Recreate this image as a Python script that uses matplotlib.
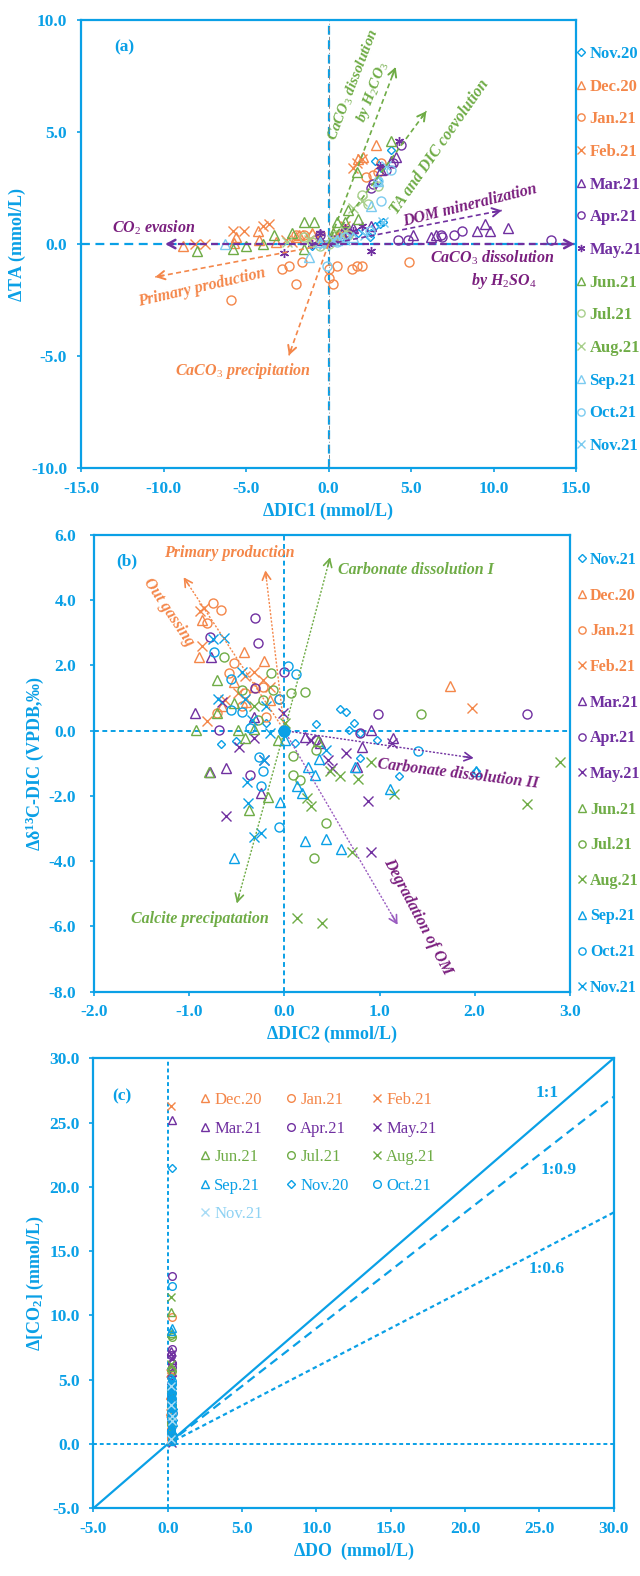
import numpy as np
import matplotlib
matplotlib.use("Agg")
import matplotlib.pyplot as plt

plt.rcParams['font.family'] = ['Liberation Serif', 'DejaVu Serif']
plt.rcParams['mathtext.fontset'] = 'custom'
plt.rcParams['mathtext.rm'] = 'Liberation Serif'
plt.rcParams['mathtext.it'] = 'Liberation Serif:italic:bold'
plt.rcParams['mathtext.bf'] = 'Liberation Serif:bold'

BLUE = '#0aa0e6'
LBLUE = '#7ccbf0'
ORANGE = '#f4874a'
PURPLE = '#7030a0'
MAGENTA = '#7a1f7e'
GREEN = '#6fac46'
LGREEN = '#a8cf8c'

# ---------------- panel (a): dTA vs dDIC1 ----------------
a_names = ['Nov.20', 'Dec.20', 'Jan.21', 'Feb.21', 'Mar.21', 'Apr.21', 'May.21',
           'Jun.21', 'Jul.21', 'Aug.21', 'Sep.21', 'Oct.21', 'Nov.21']
a_x = [
    [3.8, 2.8, 3.2, 3.0, 2.6, 2.8, 3.1, 2.5, 1.8, 0.8, 0.5, 1.2, 2.2, 3.3, -1.0, 0.2, -0.3],
    [-8.8, -5.6, -4.3, -4.2, -3.2, -1.8, 2.9, 1.8, 2.1, -2.0, -1.0, 0.5, 1.0, -5.7],
    [-5.9, -2.8, -2.4, -2.0, -1.6, 0.0, 0.0, 0.3, 0.5, 1.4, 1.7, 2.0, 4.9, 2.3, 2.7, 3.2, 3.0, -1.5, -0.8, -2.0],
    [-8.1, -7.5, -5.8, -5.1, -4.0, -3.6, -2.6, -2.2, 1.5, 2.0, 1.7, -1.3, 0.5, -0.5, 1.0],
    [5.1, 6.2, 6.5, 9.0, 9.5, 9.8, 10.9, 4.1, 3.8, 3.2, -0.5, 0.8, 1.5, 2.6],
    [4.2, 4.8, 6.8, 6.9, 7.6, 8.1, 13.5, 4.4, 3.9, 2.6, 2.7, 3.5, 0.3, -0.5, 1.2],
    [-2.7, 2.6, 4.3, 3.1, -0.5, 0.3, 1.0, 2.0, -1.0, 0.0, 1.5],
    [-8.0, -5.8, -5.0, -4.0, -3.3, -2.2, -1.5, -0.9, 0.5, 1.0, 1.8, 3.8, 1.7, 1.2, -1.5, 0.3],
    [-1.5, -1.0, 0.0, 0.5, 2.0, -0.5, 1.2, 3.0, 2.4],
    [-2.5, -1.2, 1.5, 2.0, 0.2, -0.3, 1.0],
    [-6.3, -1.2, 2.6, 0.5, -0.5, 1.5, 3.0],
    [3.2, -0.1, 0.5, 3.0, 3.8, 1.0, 2.5],
    [3.3, 2.2, 0.3, 1.0, 3.5, -0.3],
]
a_y = [
    [4.2, 3.7, 3.4, 2.8, 0.5, 0.8, 0.9, 0.3, 0.5, 0.3, 0.2, 0.4, 0.6, 1.0, -0.1, 0.1, 0.0],
    [-0.1, 0.3, 0.6, 0.2, 0.1, 0.4, 4.4, 3.8, 3.9, 0.3, 0.5, 0.3, 0.6, 0.05],
    [-2.5, -1.1, -1.0, -1.8, -0.8, -1.1, -1.5, -1.8, -1.0, -1.1, -1.0, -1.0, -0.8, 3.0, 3.1, 3.6, 3.2, 0.4, 0.2, 0.4],
    [0.0, 0.0, 0.6, 0.6, 0.8, 0.9, 0.2, 0.1, 3.4, 3.8, 3.6, 0.4, 0.5, 0.3, 0.8],
    [0.4, 0.3, 0.4, 0.6, 0.9, 0.6, 0.7, 3.9, 3.7, 3.3, 0.2, 0.5, 0.7, 0.8],
    [0.2, 0.2, 0.4, 0.3, 0.4, 0.6, 0.2, 4.4, 3.6, 2.5, 2.7, 3.3, 0.2, 0.4, 0.5],
    [-0.4, -0.3, 4.6, 3.5, 0.5, 0.1, 0.7, 0.8, 0.0, 0.0, 0.6],
    [-0.3, -0.2, -0.1, 0.0, 0.4, 0.5, 1.0, 1.0, 1.0, 1.0, 1.1, 4.6, 3.2, 1.5, -0.2, 0.5],
    [0.3, 0.1, 0.0, 0.4, 2.2, -0.1, 0.4, 2.6, 1.8],
    [0.1, 0.2, 1.6, 1.9, 0.2, 0.0, 0.6],
    [0.0, -0.6, 1.7, 0.2, 0.1, 0.3, 2.8],
    [1.9, -1.0, 0.1, 2.8, 3.3, 0.3, 0.6],
    [1.0, 0.4, 0.2, 0.2, 3.5, 0.0],
]

# ---------------- panel (b): d13C vs dDIC2 ----------------
b_names = ['Nov.21', 'Dec.20', 'Jan.21', 'Feb.21', 'Mar.21', 'Apr.21', 'May.21',
           'Jun.21', 'Jul.21', 'Aug.21', 'Sep.21', 'Oct.21', 'Nov.21']
b_x = [
    [-0.67, -0.51, 0.33, 0.58, 0.65, 0.73, 0.68, 0.80, 0.97, 0.80, 1.21, 2.01, 0.11, -0.19],
    [-0.90, -0.87, -0.43, -0.22, 1.74, -0.53, -0.32, -0.15, -0.66, -0.40],
    [-0.75, -0.67, -0.81, -0.58, -0.53, -0.41, -0.23, -0.06, -0.45, -0.19, -0.71],
    [-0.89, -0.85, -0.87, -0.81, 1.97, -0.32, -0.41, -0.49, -0.23, -0.15, -0.62],
    [-0.94, -0.77, -0.61, -0.78, -0.25, 0.22, 0.37, 0.82, 0.91, 1.14, 0.76, -0.32],
    [-0.78, -0.31, -0.28, -0.69, -0.36, -0.31, 0.00, 0.80, 0.98, 2.55, 0.33],
    [-0.61, -0.21, 0.46, 0.50, 0.65, 0.88, 0.91, -0.48, -0.32, -0.66, -0.02, 0.28, 1.13],
    [-0.93, -0.71, -0.71, -0.79, -0.37, -0.17, -0.49, -0.41, -0.32, -0.07, 0.35, -0.53],
    [-0.64, -0.45, -0.14, -0.12, 0.07, 0.22, 1.44, 0.09, 0.09, 0.16, 0.33, 0.44, 0.31, -0.28, -0.23],
    [0.13, 0.40, 0.71, 0.28, 0.24, 0.48, 0.58, 0.77, 0.91, 1.15, 2.55, 2.90, -0.32, 0.01],
    [-0.53, -0.05, 0.22, 0.44, 0.59, 0.13, 0.19, 0.25, 0.36, 0.32, 1.11, 2.01, 0.74, 0.01],
    [-0.74, -0.56, -0.45, 0.04, 0.12, -0.06, -0.27, -0.23, -0.25, -0.06, 1.40, -0.56, -0.36],
    [-0.75, -0.64, -0.70, -0.45, -0.41, -0.39, -0.38, -0.32, -0.25, -0.21, 0.44, -0.19, -0.34, -0.15],
]
b_y = [
    [-0.40, -0.33, 0.20, 0.66, 0.56, 0.23, 0.02, -0.08, -0.28, -0.84, -1.39, -1.25, -0.38, 0.23],
    [2.27, 3.40, 2.42, 2.12, 1.38, 1.50, 1.35, 0.94, 0.74, 0.89],
    [3.91, 3.70, 3.29, 1.76, 2.07, 1.15, 1.35, 0.96, 0.74, 0.43, 0.53],
    [3.68, 3.75, 2.58, 0.28, 0.69, 1.81, 1.66, 1.15, 1.56, 1.35, 0.94],
    [0.53, 2.27, -1.15, -1.27, -1.92, -0.18, -0.38, -0.49, 0.02, -0.23, -1.10, 0.43],
    [2.88, 3.45, 2.68, 0.02, -1.35, 1.30, 1.81, -0.06, 0.50, 0.50, -0.28],
    [-2.63, -0.89, -0.89, -1.15, -0.69, -2.15, -3.73, -0.49, -0.23, 0.89, 0.53, -0.28, -0.38],
    [0.02, 1.56, 0.53, -1.27, -2.43, -2.02, 0.02, -0.23, 0.04, -0.28, -0.33, 0.84],
    [2.27, 1.25, 1.76, 1.25, 1.15, 1.18, 0.50, -0.77, -1.35, -1.51, -0.59, -2.82, -3.89, 0.33, 0.94],
    [-5.73, -5.90, -3.72, -2.30, -2.07, -1.25, -1.39, -1.49, -0.95, -1.95, -2.25, -0.95, 0.74, 0.23],
    [-3.89, -2.20, -3.38, -3.33, -3.63, -1.71, -1.92, -1.10, -0.87, -1.35, -1.79, -1.25, -1.10, -0.28],
    [2.42, 1.58, 0.56, 1.97, 1.74, 0.96, -0.81, -1.25, -1.71, -2.96, -0.61, 0.64, 0.08],
    [2.80, 2.83, 0.96, 1.81, 0.96, -1.56, -2.22, -3.27, -3.14, -0.89, -0.59, 0.74, 0.33, -0.08],
]
b_origin_x = [0.0]
b_origin_y = [0.0]

# ---------------- panel (c): dCO2 vs dDO ----------------
c_names = ['Dec.20', 'Jan.21', 'Feb.21', 'Mar.21', 'Apr.21', 'May.21', 'Jun.21',
           'Jul.21', 'Aug.21', 'Sep.21', 'Nov.20', 'Oct.21', 'Nov.21']
c_x = [
    [0.2, 0.25, 0.15, 0.2, 0.3, 0.2, 0.25, 0.2, 0.15, 0.2],
    [0.3, 0.25, 0.2, 0.3, 0.2, 0.25, 0.2, 0.3],
    [0.2, 0.15, 0.2, 0.25, 0.2, 0.15],
    [0.3, 0.25, 0.3, 0.2, 0.25, 0.3, 0.3, 0.25],
    [0.3, 0.3, 0.25, 0.3, 0.2, 0.25, 0.3, 0.3],
    [0.25, 0.3, 0.2, 0.25, 0.3, 0.25],
    [0.25, 0.3, 0.2, 0.25, 0.3, 0.25],
    [0.3, 0.25, 0.3, 0.2, 0.25, 0.3],
    [0.2, 0.25, 0.3, 0.2, 0.25],
    [0.3, 0.25, 0.3, 0.25, 0.3, 0.2, 0.3, 0.25, 0.3, 0.2, 0.35, 0.25, 0.3, 0.25, 0.35, 0.3],
    [0.3, 0.25, 0.3, 0.2, 0.3, 0.25, 0.3, 0.25, 0.35, 0.2, 0.3, 0.25, 0.3, 0.35],
    [0.3, 0.3, 0.25, 0.3, 0.25, 0.3, 0.25, 0.3, 0.25, 0.3, 0.2, 0.35, 0.3, 0.3, 0.25, 0.35],
    [0.25, 0.2, 0.3, 0.25, 0.3],
]
c_y = [
    [5.8, 4.6, 3.8, 3.0, 2.2, 1.4, 0.8, 0.3, 2.6, 1.1],
    [9.9, 5.2, 4.0, 2.5, 1.2, 0.4, 3.1, 1.9],
    [26.3, 5.5, 3.3, 1.8, 0.6, 2.4],
    [25.2, 7.2, 6.5, 4.5, 2.0, 0.5, 5.6, 3.9],
    [13.1, 7.4, 6.9, 6.3, 3.5, 1.0, 6.0, 2.6],
    [7.0, 6.6, 5.0, 2.7, 0.1, 4.1],
    [10.3, 8.6, 6.0, 3.2, 0.7, 2.3],
    [8.3, 8.5, 5.7, 4.2, 1.6, 3.0],
    [11.4, 6.2, 3.7, 1.2, 2.8],
    [9.0, 8.8, 5.0, 4.3, 3.6, 2.9, 2.1, 1.3, 0.5, 3.3, 1.7, 0.2, 4.6, 2.5, 0.9, 3.9],
    [21.5, 5.1, 4.7, 3.9, 3.1, 2.4, 1.5, 0.7, 2.7, 1.1, 0.4, 4.2, 3.5, 1.9],
    [12.3, 4.9, 4.4, 4.0, 3.4, 2.8, 2.0, 1.4, 0.9, 0.3, 3.7, 2.4, 1.8, 4.7, 3.0, 0.6],
    [4.5, 3.0, 1.8, 0.4, 2.2],
]
c_ratios = [1.0, 0.9, 0.6]
c_ratio_labels = ['1:1', '1:0.9', '1:0.6']

# marker styles
ast = (6, 2, 0)
a_style = [('D', BLUE, BLUE), ('^', ORANGE, ORANGE), ('o', ORANGE, ORANGE), ('x', ORANGE, ORANGE),
           ('^', PURPLE, PURPLE), ('o', PURPLE, PURPLE), (ast, PURPLE, PURPLE),
           ('^', GREEN, GREEN), ('o', LGREEN, GREEN), ('x', LGREEN, GREEN),
           ('^', LBLUE, BLUE), ('o', LBLUE, BLUE), ('x', LBLUE, BLUE)]
b_style = [('D', BLUE, BLUE), ('^', ORANGE, ORANGE), ('o', ORANGE, ORANGE), ('x', ORANGE, ORANGE),
           ('^', PURPLE, PURPLE), ('o', PURPLE, PURPLE), ('x', PURPLE, PURPLE),
           ('^', GREEN, GREEN), ('o', GREEN, GREEN), ('x', GREEN, GREEN),
           ('^', BLUE, BLUE), ('o', BLUE, BLUE), ('x', BLUE, BLUE)]
c_style = [('^', ORANGE, ORANGE), ('o', ORANGE, ORANGE), ('x', ORANGE, ORANGE),
           ('^', PURPLE, PURPLE), ('o', PURPLE, PURPLE), ('x', PURPLE, PURPLE),
           ('^', GREEN, GREEN), ('o', GREEN, GREEN), ('x', GREEN, GREEN),
           ('^', BLUE, BLUE), ('D', BLUE, BLUE), ('o', BLUE, BLUE), ('x', '#a9dcf5', '#8fd2f3')]


def msize(m, base):
    if m == 'D':
        return base * 0.7
    return base


def style_axes(ax, xlim, ylim, xstep, ystep, xlabel, ylabel, ypad=7):
    ax.set_xlim(*xlim)
    ax.set_ylim(*ylim)
    ax.set_xticks(np.arange(xlim[0], xlim[1] + 0.01, xstep))
    ax.set_yticks(np.arange(ylim[0], ylim[1] + 0.01, ystep))
    ax.xaxis.set_major_formatter(matplotlib.ticker.FormatStrFormatter('%.1f'))
    ax.yaxis.set_major_formatter(matplotlib.ticker.FormatStrFormatter('%.1f'))
    for s in ax.spines.values():
        s.set_color(BLUE)
        s.set_linewidth(1.6)
    ax.tick_params(colors=BLUE, direction='out', length=3, width=1.2, labelsize=12.5)
    ax.tick_params(axis='x', pad=6)
    ax.tick_params(axis='y', pad=ypad)
    for t in ax.get_xticklabels() + ax.get_yticklabels():
        t.set_fontweight('bold')
    ax.set_xlabel(xlabel, color=BLUE, fontsize=13, fontweight='bold', labelpad=3)
    ax.set_ylabel(ylabel, color=BLUE, fontsize=13, fontweight='bold', labelpad=2)


def arrow(ax, start, end, color, ls, lw=1.2):
    ax.plot([start[0], end[0]], [start[1], end[1]], color=color, ls=ls, lw=lw, zorder=4)
    back = (end[0] - 0.05 * (end[0] - start[0]), end[1] - 0.05 * (end[1] - start[1]))
    ax.annotate('', xy=end, xytext=back,
                arrowprops=dict(arrowstyle='->,head_length=0.55,head_width=0.3',
                                color=color, lw=lw + 0.2, shrinkA=0, shrinkB=0), zorder=4)


def note(ax, x, y, s, color, rot=0, size=11.5):
    ax.text(x, y, s, color=color, fontsize=size, fontweight='bold', fontstyle='italic',
            rotation=rot, ha='center', va='center', rotation_mode='anchor', linespacing=1.3)


fig = plt.figure(figsize=(6.4, 15.76), dpi=100)

# ---------- (a) ----------
ax = fig.add_axes([0.1266, 0.7030, 0.7734, 0.2843])
ax.axhline(0, color=BLUE, ls=(0, (4, 2.5)), lw=1.6, zorder=1)
ax.axvline(0, color=BLUE, ls=(0, (4, 2.5)), lw=1.6, zorder=1)
ax.axvline(0, color='#8a8a8a', ls=(0, (4, 2.5, 1, 2.5)), lw=0.7, zorder=1)
for name, xs, ys, (m, c, _) in zip(a_names, a_x, a_y, a_style):
    ax.plot(xs, ys, ls='none', marker=m, mfc='none', mec=c, mew=1.0,
            ms=msize(m, 6.5), zorder=3, label=name)
arrow(ax, (0, 0), (-9.9, 0), PURPLE, (0, (3, 2)), 1.6)
arrow(ax, (0, 0), (14.9, 0), PURPLE, (0, (3, 2)), 1.6)
arrow(ax, (0, 0), (10.5, 1.5), PURPLE, (0, (3, 2)))
arrow(ax, (-1.0, -0.15), (-10.5, -1.47), ORANGE, (0, (3, 2)))
arrow(ax, (0, 0), (-2.4, -4.97), ORANGE, (0, (3, 2)))
arrow(ax, (0, 0), (4.07, 7.9), GREEN, (0, (3, 2)))
arrow(ax, (0.5, 0.5), (5.93, 5.93), GREEN, (0, (3, 2)))
note(ax, -10.6, 0.72, 'CO$_2$ evasion', MAGENTA)
note(ax, 9.9, -1.15, 'CaCO$_3$ dissolution\n      by H$_2$SO$_4$', MAGENTA)
note(ax, 8.6, 1.74, 'DOM mineralization', MAGENTA, 14)
note(ax, -7.7, -1.92, 'Primary production', ORANGE, 13)
note(ax, -5.2, -5.67, 'CaCO$_3$ precipitation', ORANGE)
note(ax, 2.1, 6.95, 'CaCO$_3$ dissolution\nby H$_2$CO$_3$', GREEN, 69, 11)
note(ax, 6.76, 4.35, 'TA and DIC coevolution', GREEN, 55)
ax.text(-12.4, 8.8, '(a)', color=BLUE, fontsize=12.5, fontweight='bold', ha='center', va='center')
style_axes(ax, (-15, 15), (-10, 10), 5, 5, '$\\mathbf{\\Delta}$DIC1 (mmol/L)', '$\\mathbf{\\Delta}$TA (mmol/L)')
h, l = ax.get_legend_handles_labels()
fig.legend(h, l, loc='upper left', bbox_to_anchor=(577 / 640, 1 - 46 / 1576), frameon=False,
           borderpad=0, borderaxespad=0, handlelength=0.5, handletextpad=0.25,
           labelspacing=1.0, markerscale=0.8, labelcolor=[s[2] for s in a_style],
           prop={'family': 'Liberation Serif', 'weight': 'bold', 'size': 12})

# ---------- (b) ----------
ax = fig.add_axes([0.1473, 0.3708, 0.7428, 0.2898])
ax.axhline(0, color=BLUE, ls=(0, (2.5, 1.8)), lw=1.4, zorder=1)
ax.axvline(0, color=BLUE, ls=(0, (2.5, 1.8)), lw=1.4, zorder=1)
for name, xs, ys, (m, c, _) in zip(b_names, b_x, b_y, b_style):
    ax.plot(xs, ys, ls='none', marker=m, mfc='none', mec=c, mew=1.0,
            ms=msize(m, 6.5), zorder=3, label=name)
ax.plot(b_origin_x, b_origin_y, ls='none', marker='o', color=BLUE, ms=8, zorder=5)
dot = (0, (1.5, 1.2))
arrow(ax, (0, 0), (-0.20, 4.91), ORANGE, dot, 1.0)
arrow(ax, (0, 0), (-1.06, 4.70), ORANGE, dot, 1.0)
arrow(ax, (0, 0), (0.48, 5.31), GREEN, dot, 1.0)
arrow(ax, (0, 0), (1.99, -0.84), PURPLE, dot, 1.0)
arrow(ax, (0, 0), (1.19, -5.95), '#9a5cc0', dot, 1.0)
arrow(ax, (0, 0), (-0.50, -5.29), GREEN, dot, 1.0)
note(ax, -0.58, 5.46, 'Primary production', ORANGE)
note(ax, -1.22, 3.62, 'Out gassing', ORANGE, -56)
note(ax, 1.38, 4.93, 'Carbonate dissolution I', GREEN)
note(ax, 1.83, -1.33, 'Carbonate dissolution II', MAGENTA, -7)
note(ax, 1.40, -5.7, 'Degradation of OM', MAGENTA, -62)
note(ax, -0.89, -5.77, 'Calcite precipatation', GREEN)
ax.text(-1.66, 5.2, '(b)', color=BLUE, fontsize=12.5, fontweight='bold', ha='center', va='center')
style_axes(ax, (-2, 3), (-8, 6), 1, 2, '$\\mathbf{\\Delta}$DIC2 (mmol/L)',
           '$\\mathbf{\\Delta\\delta}^{\\mathbf{13}}$C-DIC (VPDB,\u2030)', ypad=10)
h, l = ax.get_legend_handles_labels()
fig.legend(h, l, loc='upper left', bbox_to_anchor=(578 / 640, 1 - 552 / 1576), frameon=False,
           borderpad=0, borderaxespad=0, handlelength=0.5, handletextpad=0.25,
           labelspacing=1.23, markerscale=0.8, labelcolor=[s[2] for s in b_style],
           prop={'family': 'Liberation Serif', 'weight': 'bold', 'size': 11.5})

# ---------- (c) ----------
ax = fig.add_axes([0.1460, 0.0430, 0.8127, 0.2855])
ax.axhline(0, color=BLUE, ls=(0, (2, 1.5)), lw=1.4, zorder=1)
ax.axvline(0, color=BLUE, ls=(0, (2, 1.5)), lw=1.4, zorder=1)
xr = np.array([-5.0, 30.0])
x0 = np.array([0.0, 30.0])
ax.plot(xr, c_ratios[0] * xr, color=BLUE, lw=1.6, zorder=2)
ax.plot(x0, c_ratios[1] * x0, color=BLUE, lw=1.6, ls=(0, (4, 2.5)), zorder=2)
ax.plot(x0, c_ratios[2] * x0, color=BLUE, lw=1.6, ls=(0, (2, 1.5)), zorder=2)
for lab, (tx, ty) in zip(c_ratio_labels, [(25.5, 27.3), (26.3, 21.3), (25.5, 13.6)]):
    ax.text(tx, ty, lab, color=BLUE, fontsize=12.5, fontweight='bold', ha='center', va='center')
for name, xs, ys, (m, c, _) in zip(c_names, c_x, c_y, c_style):
    ax.plot(xs, ys, ls='none', marker=m, mfc='none', mec=c, mew=1.0,
            ms=msize(m, 5.5), zorder=3, label=name)
ax.text(-3.1, 27.0, '(c)', color=BLUE, fontsize=12.5, fontweight='bold', ha='center', va='center')
style_axes(ax, (-5, 30), (-5, 30), 5, 5, '$\\mathbf{\\Delta}$DO  (mmol/L)', '$\\mathbf{\\Delta}$[CO$_\\mathbf{2}$] (mmol/L)')
h, l = ax.get_legend_handles_labels()
order = [0, 3, 6, 9, 12, 1, 4, 7, 10, 2, 5, 8, 11]
leg = ax.legend([h[i] for i in order], [l[i] for i in order], ncol=3, loc='upper left',
                bbox_to_anchor=(0.205, 0.925), frameon=False, borderpad=0, borderaxespad=0,
                handlelength=0.55, handletextpad=0.3, labelspacing=0.75, columnspacing=1.4,
                labelcolor=[c_style[i][2] for i in order],
                prop={'family': 'Liberation Serif', 'size': 12})

fig.savefig('out.png', dpi=100)
